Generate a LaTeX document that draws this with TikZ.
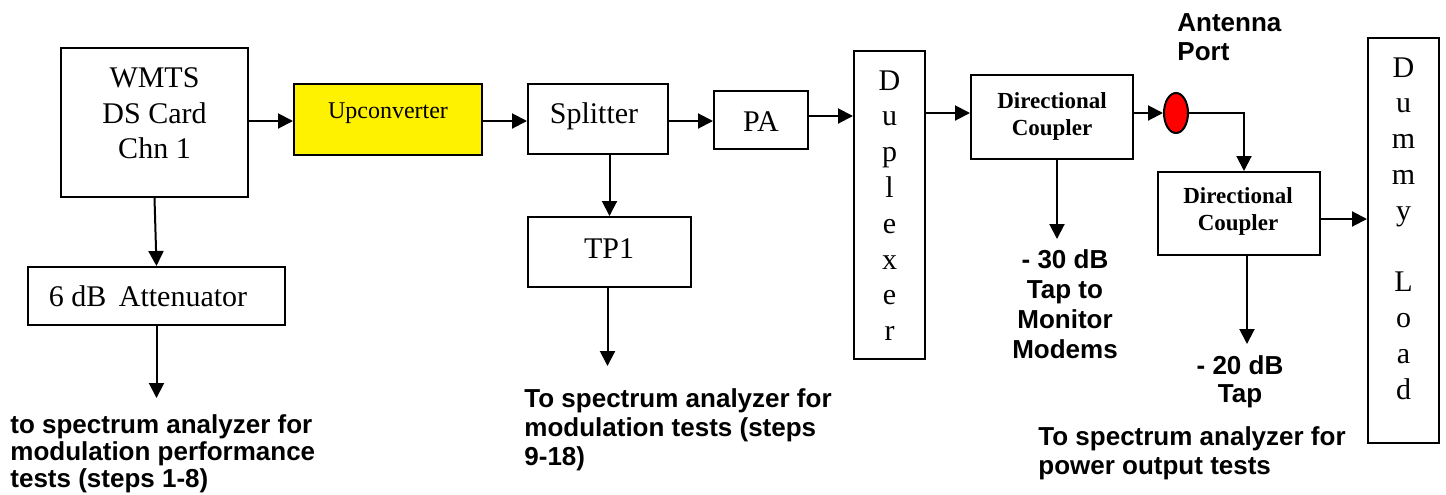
\documentclass[tikz,border=0pt]{standalone}
\usepackage{fontspec}
\setmainfont{Liberation Serif}
\setsansfont{Liberation Sans}
\usetikzlibrary{arrows.meta,shapes.geometric,calc}

\tikzset{
  blk/.style={draw, line width=1pt, inner sep=0pt},
  arr/.style={line width=1pt, -{Triangle[length=7.5pt,width=7.5pt]}},
  ln/.style={line width=1pt},
  big/.style={font=\fontsize{15}{17.9}\selectfont, inner sep=0pt, align=center},
  dcl/.style={font=\bfseries\fontsize{11.5}{13.5}\selectfont, inner sep=0pt, align=center},
  tag/.style={font=\sffamily\bfseries\fontsize{13}{14.5}\selectfont, inner sep=0pt},
}

\begin{document}
\begin{tikzpicture}[x=0.5pt,y=-0.5pt]
\useasboundingbox (0,0) rectangle (1446,494);

% transmitter chain boxes
\node[blk, minimum width=93.5pt, minimum height=74.5pt] (wmts) at (154.5,122.5) {};
\node[big, anchor=north] (wmtsT) at (154.5,67) {WMTS\\DS Card\\Chn 1};

\node[blk, fill=yellow, minimum width=94pt, minimum height=35.5pt] (up) at (388,119.5) {};
\node[inner sep=0pt, anchor=base, font=\fontsize{12}{14}\selectfont] (upT) at (388,118.3) {Upconverter};

\node[blk, minimum width=70pt, minimum height=35pt] (split) at (598,119) {};
\node[big, anchor=base] (splitT) at (594,123.3) {Splitter};

\node[blk, minimum width=47pt, minimum height=29pt] (pa) at (761,120) {};
\node[big, anchor=base] (paT) at (761,131) {PA};

\node[blk, minimum width=35.5pt, minimum height=154pt] (dup) at (889.5,205) {};
\node[big, anchor=north] (dupT) at (889.5,70) {D\\u\\p\\l\\e\\x\\e\\r};

\node[blk, minimum width=81.5pt, minimum height=35pt] (tp1) at (609.5,252) {};
\node[big, anchor=base] (tp1T) at (609,258) {TP1};

\node[blk, minimum width=128.5pt, minimum height=29pt] (att) at (156.5,296) {};
\node[big, anchor=base] (attT) at (148,306) {6 dB\, Attenuator};

\node[blk, minimum width=81pt, minimum height=42pt] (dc1) at (1052,117) {};
\node[dcl, anchor=north] (dc1T) at (1052,92) {Directional\\Coupler};

\node[ellipse, draw, fill=red, line width=1pt, inner sep=0pt,
      minimum width=12pt, minimum height=20pt] (ant) at (1176,113) {};

\node[blk, minimum width=81pt, minimum height=41.5pt] (dc2) at (1239,213.5) {};
\node[dcl, anchor=north] (dc2T) at (1238,187) {Directional\\Coupler};

\node[blk, minimum width=35.5pt, minimum height=202.5pt] (dummy) at (1403.5,240.5) {};
\node[big, anchor=north] (dummyT) at (1403.5,57) {D\\u\\m\\m\\y\\\mbox{}\\L\\o\\a\\d};

% signal path
\draw[arr] (wmts.east |- 0,121) -- (up.west |- 0,121);
\draw[arr] (up.east |- 0,121) -- (split.west |- 0,121);
\draw[arr] (split.east |- 0,121) -- (pa.west |- 0,121);
\coordinate (p1) at ([yshift=2pt]pa.east);
\draw[arr] (p1) -- (p1 -| dup.west);
\coordinate (d1) at ([yshift=2pt]dc1.west);
\draw[arr] (d1 -| dup.east) -- (d1);
\draw[arr] (dc1.east |- ant.west) -- (ant.west);
\draw[arr] (ant.east) -| ([xshift=2.5pt]dc2.north);
\coordinate (c2) at ([yshift=-2.75pt]dc2.east);
\draw[arr] (c2) -- (c2 -| dummy.west);

% test taps
\draw[arr] (wmts.south) -- (att.north);
\coordinate (attEnd) at ([yshift=-36pt]att.south);
\draw[arr] (att.south) -- (attEnd);
\draw[arr] (tp1.north |- split.south) -- (tp1.north);
\coordinate (tpEnd) at ([xshift=-1pt,yshift=-39pt]tp1.south);
\draw[arr] (tpEnd |- tp1.south) -- (tpEnd);
\coordinate (dc1End) at ([xshift=2.5pt,yshift=-39.5pt]dc1.south);
\draw[arr] (dc1End |- dc1.south) -- (dc1End);
\coordinate (dc2End) at ([xshift=4pt,yshift=-44pt]dc2.south);
\draw[arr] (dc2End |- dc2.south) -- (dc2End);

% labels
\node[tag, anchor=north west, align=left, font=\sffamily\bfseries\fontsize{13}{13.5}\selectfont] (lab1) at (10,414)
  {to spectrum analyzer for\\modulation performance\\tests (steps 1-8)};
\node[tag, anchor=north west, align=left] (lab2) at (524,388)
  {To spectrum analyzer for\\modulation tests (steps\\9-18)};
\node[tag, anchor=north, align=center, font=\sffamily\bfseries\fontsize{13}{15}\selectfont] (lab3) at (1065,249)
  {- 30 dB\\Tap to\\Monitor\\Modems};
\node[tag, anchor=north, align=center, font=\sffamily\bfseries\fontsize{13}{14}\selectfont] (lab4) at (1240,355)
  {- 20 dB\\Tap};
\node[tag, anchor=north west, align=left, font=\sffamily\bfseries\fontsize{13}{14.5}\selectfont] (lab5) at (1038,426)
  {To spectrum analyzer for\\power output tests};
\node[tag, anchor=north west, align=left] (antT) at (1177,13)
  {Antenna\\Port};
\end{tikzpicture}
\end{document}
